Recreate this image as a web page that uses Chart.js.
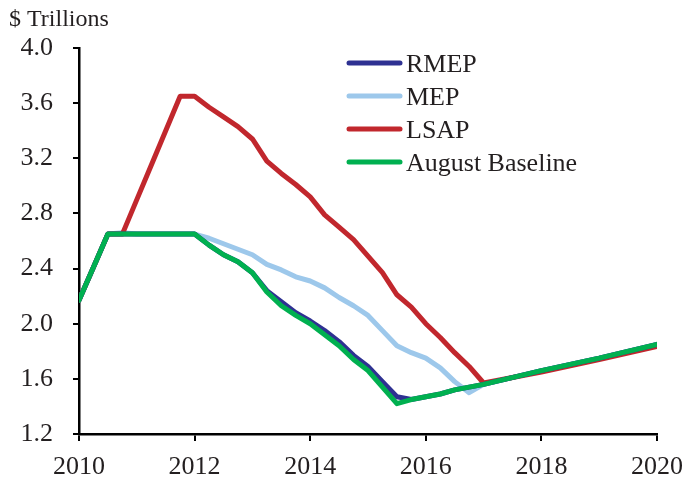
<!DOCTYPE html>
<html>
<head>
<meta charset="utf-8">
<script src="https://cdn.jsdelivr.net/npm/chart.js@4.4.1/dist/chart.umd.min.js"></script>
<style>
  html, body { margin: 0; padding: 0; background: #fff; }
  canvas { display: block; }
</style>
</head>
<body>
<canvas id="myChart" width="685" height="489"></canvas>
<script>
// quarter points through 2017, yearly after that
const years = [2010, 2010.25, 2010.5, 2010.75, 2011, 2011.25, 2011.5, 2011.75,
  2012, 2012.25, 2012.5, 2012.75, 2013, 2013.25, 2013.5, 2013.75,
  2014, 2014.25, 2014.5, 2014.75, 2015, 2015.25, 2015.5, 2015.75,
  2016, 2016.25, 2016.5, 2016.75, 2017, 2018, 2019, 2020];

const rmep = [2.17, 2.41, 2.65, 2.65, 2.65, 2.65, 2.65, 2.65,
  2.65, 2.57, 2.50, 2.45, 2.37, 2.24, 2.16, 2.08,
  2.02, 1.95, 1.87, 1.77, 1.69, 1.58, 1.47, 1.45,
  1.47, 1.49, 1.52, 1.54, 1.56, 1.66, 1.75, 1.85];

const mep = [2.17, 2.41, 2.65, 2.66, 2.65, 2.65, 2.65, 2.65,
  2.65, 2.62, 2.58, 2.54, 2.50, 2.43, 2.39, 2.34,
  2.31, 2.26, 2.19, 2.13, 2.06, 1.95, 1.84, 1.79,
  1.75, 1.68, 1.58, 1.50, 1.56, 1.66, 1.75, 1.85];

const lsap = [2.17, 2.41, 2.65, 2.65, 2.90, 3.15, 3.40, 3.65,
  3.65, 3.57, 3.50, 3.43, 3.34, 3.18, 3.09, 3.01,
  2.92, 2.79, 2.70, 2.61, 2.49, 2.37, 2.21, 2.12,
  2.00, 1.90, 1.79, 1.69, 1.57, 1.65, 1.74, 1.835];

const baseline = [2.17, 2.41, 2.65, 2.65, 2.65, 2.65, 2.65, 2.65,
  2.65, 2.57, 2.50, 2.45, 2.37, 2.23, 2.13, 2.06,
  2.00, 1.92, 1.84, 1.74, 1.66, 1.54, 1.42, 1.45,
  1.47, 1.49, 1.52, 1.54, 1.56, 1.66, 1.75, 1.85];

const seriesNames = ['RMEP', 'MEP', 'LSAP', 'August Baseline'];
const seriesColors = ['#2E3192', '#9DC8EB', '#C1272D', '#00B050'];
const xTicks = [2010, 2012, 2014, 2016, 2018, 2020];
const yTicks = [1.2, 1.6, 2.0, 2.4, 2.8, 3.2, 3.6, 4.0];

const FONT = "'Liberation Serif', 'Times New Roman', serif";
const TEXT = '#231F20';

function toPoints(vals) {
  return years.map((x, i) => ({ x, y: vals[i] }));
}

function makeDataset(i, vals, order) {
  return {
    label: seriesNames[i],
    data: toPoints(vals),
    borderColor: seriesColors[i],
    backgroundColor: seriesColors[i],
    borderWidth: 5,
    pointRadius: 0,
    tension: 0,
    fill: false,
    borderJoinStyle: 'round',
    borderCapStyle: 'round',
    order
  };
}

// title + legend drawn inside the plot, like the original figure
const overlay = {
  id: 'overlay',
  afterDraw(chart) {
    const ctx = chart.ctx;
    ctx.save();
    ctx.fillStyle = TEXT;
    ctx.font = `24px ${FONT}`;
    ctx.textAlign = 'left';
    ctx.textBaseline = 'alphabetic';
    ctx.fillText('$ Trillions', 9, 26);

    const rows = [63, 96, 129, 162];
    chart.data.datasets.forEach((ds, i) => {
      const y = rows[i];
      ctx.strokeStyle = ds.borderColor;
      ctx.lineWidth = 5;
      ctx.lineCap = 'round';
      ctx.beginPath();
      ctx.moveTo(349, y);
      ctx.lineTo(400, y);
      ctx.stroke();
      ctx.font = `26px ${FONT}`;
      ctx.fillText(ds.label, 406, y + 9);
    });
    ctx.restore();
  }
};

const ctx = document.getElementById('myChart').getContext('2d');
new Chart(ctx, {
  type: 'line',
  data: {
    datasets: [
      makeDataset(0, rmep, 2),
      makeDataset(1, mep, 4),
      makeDataset(2, lsap, 3),
      makeDataset(3, baseline, 1)
    ]
  },
  options: {
    responsive: false,
    animation: false,
    layout: { padding: { top: 48, right: 28, bottom: 0, left: 0 } },
    plugins: { legend: { display: false }, tooltip: { enabled: false } },
    scales: {
      x: {
        type: 'linear',
        min: xTicks[0],
        max: xTicks[xTicks.length - 1],
        afterBuildTicks: s => { s.ticks = xTicks.map(v => ({ value: v })); },
        afterFit: s => { s.height = 55; s.paddingLeft = 0; s.paddingRight = 0; },
        ticks: { callback: v => String(v), color: TEXT, font: { family: FONT, size: 26 }, padding: 11, maxRotation: 0 },
        grid: { drawOnChartArea: false, drawTicks: true, tickLength: 7, color: '#000', lineWidth: 2 },
        border: { color: '#000', width: 2.5 }
      },
      y: {
        min: yTicks[0],
        max: yTicks[yTicks.length - 1],
        afterBuildTicks: s => { s.ticks = yTicks.map(v => ({ value: v })); },
        afterFit: s => { s.width = 79; },
        ticks: { callback: v => v.toFixed(1), color: TEXT, font: { family: FONT, size: 26 }, padding: 20 },
        grid: { drawOnChartArea: false, drawTicks: true, tickLength: 6, color: '#000', lineWidth: 2 },
        border: { color: '#000', width: 2.5 }
      }
    }
  },
  plugins: [overlay]
});
</script>
</body>
</html>
